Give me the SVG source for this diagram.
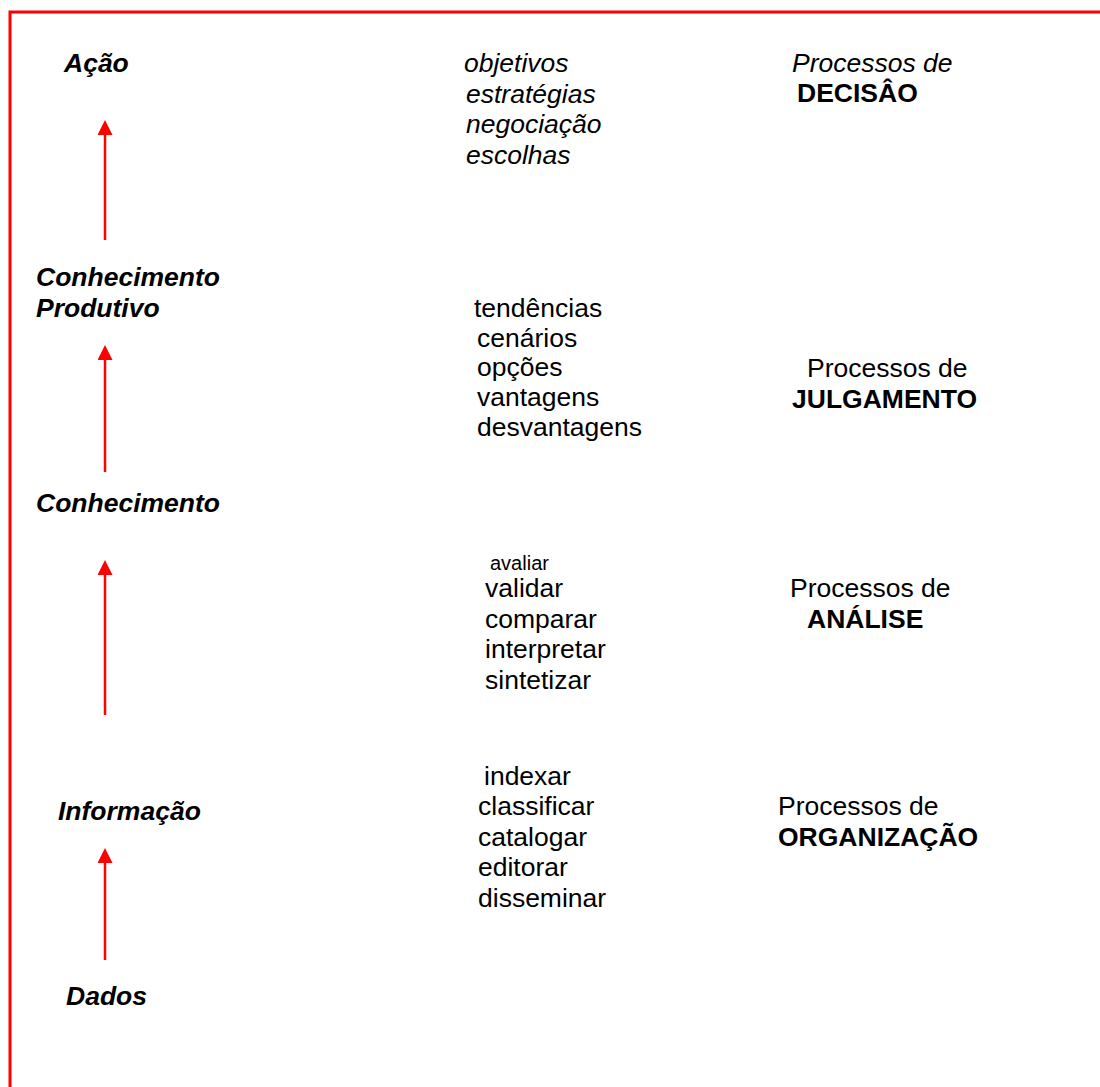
<svg xmlns="http://www.w3.org/2000/svg" width="1100" height="1087" viewBox="0 0 1100 1087">
<style>
text{font-family:"Liberation Sans",Arial,sans-serif;font-size:26.5px;fill:#000}
.bi{font-weight:bold;font-style:italic}
.i{font-style:italic}
.b{font-weight:bold}
.sm{font-size:20px}
.arr{stroke:#ff0000;stroke-width:2.5;fill:none}
</style>
<defs>
<marker id="ah" markerUnits="userSpaceOnUse" markerWidth="15" markerHeight="15" refX="0" refY="7.5" orient="auto">
<path d="M0,0 L15,7.5 L0,15 Z" fill="#ff0000"/>
</marker>
</defs>
<rect width="1100" height="1087" fill="#fff"/>
<path d="M10,1087 V12 H1100" fill="none" stroke="#ff0000" stroke-width="3"/>
<g id="connectors">
<line class="arr" x1="105" y1="240" x2="105" y2="135" marker-end="url(#ah)"/>
<line class="arr" x1="105" y1="472" x2="105" y2="360" marker-end="url(#ah)"/>
<line class="arr" x1="105" y1="715" x2="105" y2="575" marker-end="url(#ah)"/>
<line class="arr" x1="105" y1="960" x2="105" y2="863" marker-end="url(#ah)"/>
</g>
<g id="acao"><text class="bi" x="64" y="72">Ação</text></g>
<g id="conhecimento-produtivo"><text class="bi" x="36" y="286">Conhecimento</text><text class="bi" x="36" y="317">Produtivo</text></g>
<g id="conhecimento"><text class="bi" x="36" y="512">Conhecimento</text></g>
<g id="informacao"><text class="bi" x="58" y="820">Informação</text></g>
<g id="dados"><text class="bi" x="66" y="1005">Dados</text></g>
<g id="lista-decisao">
<text class="i" x="464" y="72">objetivos</text>
<text class="i" x="466" y="103">estratégias</text>
<text class="i" x="466" y="133">negociação</text>
<text class="i" x="466" y="164">escolhas</text>
</g>
<g id="decisao"><text class="i" x="792" y="72">Processos de</text><text class="b" x="797" y="102">DECISÂO</text></g>
<g id="lista-julgamento">
<text x="474" y="317">tendências</text>
<text x="477" y="347">cenários</text>
<text x="477" y="376">opções</text>
<text x="477" y="406">vantagens</text>
<text x="477" y="436">desvantagens</text>
</g>
<g id="julgamento"><text x="807" y="377">Processos de</text><text class="b" x="792" y="408">JULGAMENTO</text></g>
<g id="lista-analise">
<text class="sm" x="490" y="570">avaliar</text>
<text x="485" y="597">validar</text>
<text x="485" y="628">comparar</text>
<text x="485" y="658">interpretar</text>
<text x="485" y="689">sintetizar</text>
</g>
<g id="analise"><text x="790" y="597">Processos de</text><text class="b" x="807" y="628">ANÁLISE</text></g>
<g id="lista-organizacao">
<text x="484" y="785">indexar</text>
<text x="478" y="815">classificar</text>
<text x="478" y="846">catalogar</text>
<text x="478" y="876">editorar</text>
<text x="478" y="907">disseminar</text>
</g>
<g id="organizacao"><text x="778" y="815">Processos de</text><text class="b" x="778" y="846">ORGANIZAÇÃO</text></g>
</svg>
